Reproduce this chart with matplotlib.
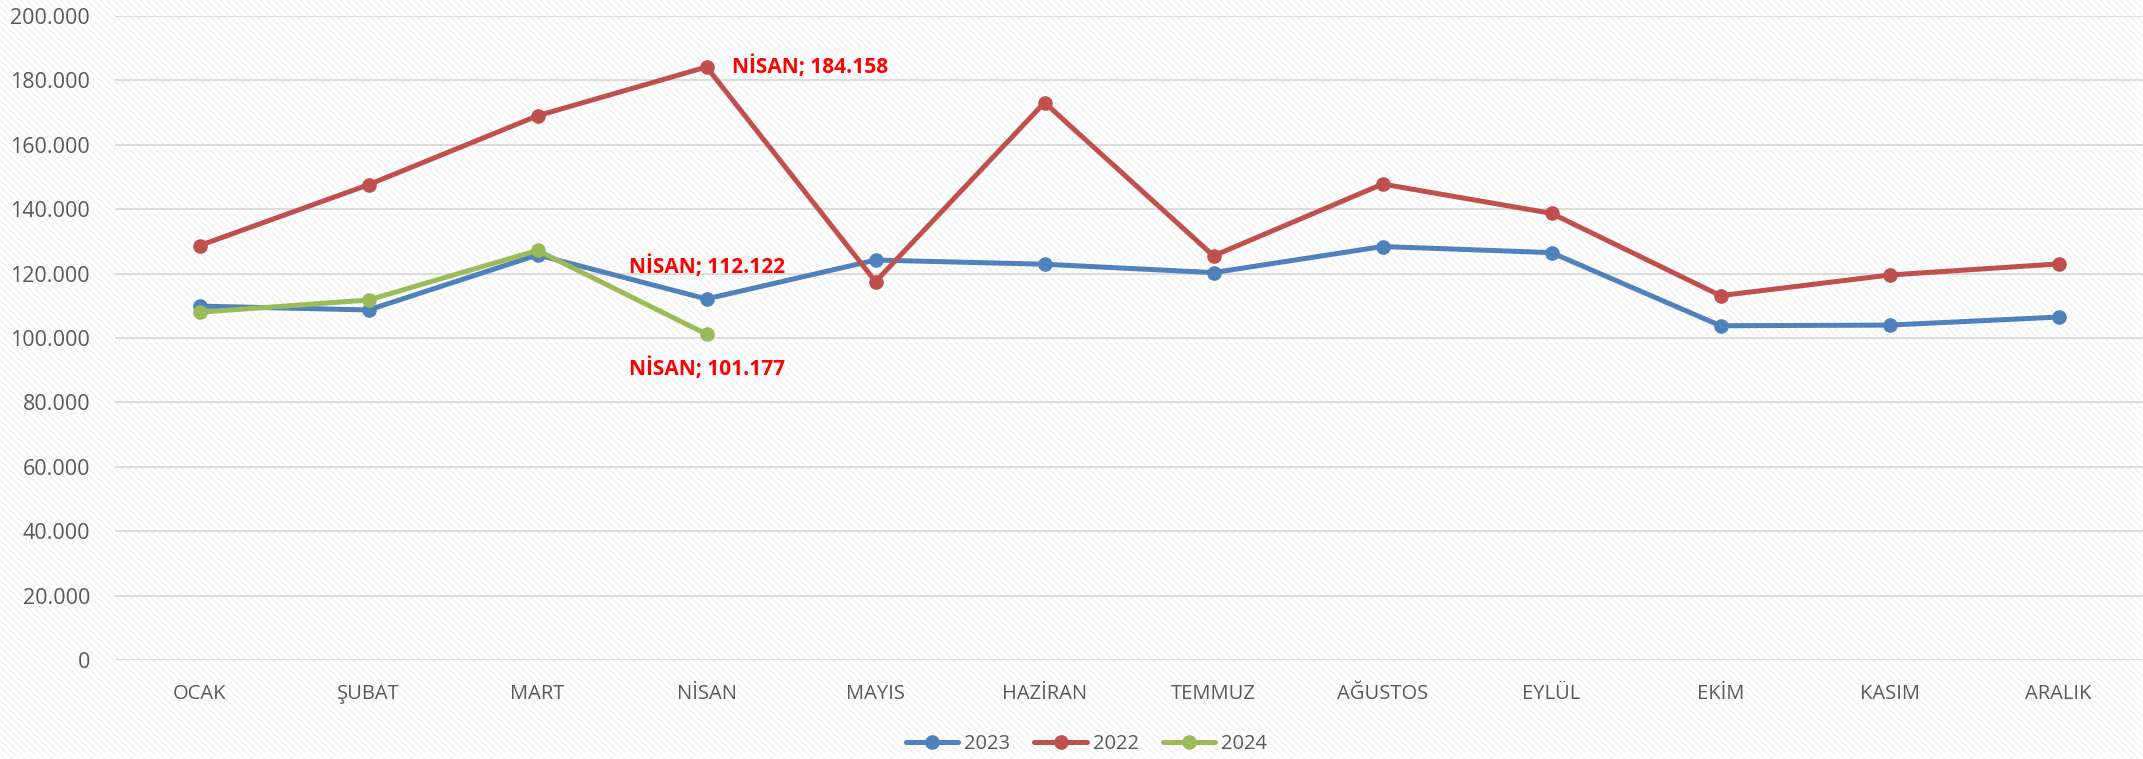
import matplotlib.pyplot as plt
from matplotlib.patches import Rectangle
from matplotlib.ticker import FuncFormatter

plt.rcParams['font.family'] = ['Open Sans', 'DejaVu Sans']
plt.rcParams['hatch.linewidth'] = 0.9

months = ['OCAK', 'ŞUBAT', 'MART', 'NİSAN', 'MAYIS', 'HAZİRAN',
          'TEMMUZ', 'AĞUSTOS', 'EYLÜL', 'EKİM', 'KASIM', 'ARALIK']
y2023 = [109900, 108700, 125800, 112122, 124200, 122900,
         120300, 128400, 126500, 103800, 104000, 106500]
y2022 = [128700, 147600, 169000, 184158, 117500, 173100,
         125500, 147800, 138700, 113150, 119550, 123000]
y2024 = [108000, 111800, 127200, 101177]

series = [
    ('2023', y2023, '#4F81BD'),
    ('2022', y2022, '#C0504D'),
    ('2024', y2024, '#9BBB59'),
]

fig = plt.figure(figsize=(21.43, 7.59), dpi=100)
# light diagonal stripes behind everything, like the original chart area
fig.patches.append(Rectangle((0, 0), 1, 1, transform=fig.transFigure,
                             facecolor='white', edgecolor='#F1F1F1',
                             hatch='\\\\\\\\\\', linewidth=0, zorder=-10))

ax = fig.add_axes([0.0537, 0.1304, 0.9463, 0.8486])
ax.set_facecolor('none')

x = list(range(len(months)))
for name, vals, color in series:
    ax.plot(x[:len(vals)], vals, color=color, linewidth=3.6, marker='o',
            markersize=9.5, label=name, solid_capstyle='round')

ax.set_xlim(-0.5, len(months) - 0.5)
ax.set_ylim(0, 200000)
ax.set_yticks(range(0, 200001, 20000))
ax.yaxis.set_major_formatter(FuncFormatter(lambda v, p: f'{int(v):,}'.replace(',', '.')))
ax.set_xticks(x)
ax.set_xticklabels(months)
ax.tick_params(axis='y', length=0, pad=18, labelsize=15.5, labelcolor='#595959')
ax.tick_params(axis='x', length=0, pad=17, labelsize=14.5, labelcolor='#595959')
ax.grid(axis='y', color='#D9D9D9', linewidth=1.3)
ax.set_axisbelow(True)
for s in ax.spines.values():
    s.set_visible(False)

# data labels for NİSAN
lab = dict(color='#FF0000', fontsize=15, fontweight='bold')
ax.annotate(f'NİSAN; {y2022[3]:,}'.replace(',', '.'), (3, y2022[3]),
            xytext=(18, 0), textcoords='offset points', ha='left', va='center', **lab)
ax.annotate(f'NİSAN; {y2023[3]:,}'.replace(',', '.'), (3, y2023[3]),
            xytext=(0, 23), textcoords='offset points', ha='center', va='center', **lab)
ax.annotate(f'NİSAN; {y2024[3]:,}'.replace(',', '.'), (3, y2024[3]),
            xytext=(0, -25), textcoords='offset points', ha='center', va='center', **lab)

fig.legend(loc='center', bbox_to_anchor=(0.507, 0.02), ncol=3, frameon=False,
           fontsize=14.5, labelcolor='#595959', handlelength=2.6,
           columnspacing=1.2, handletextpad=0.3)

fig.savefig('out.png', dpi=100)
